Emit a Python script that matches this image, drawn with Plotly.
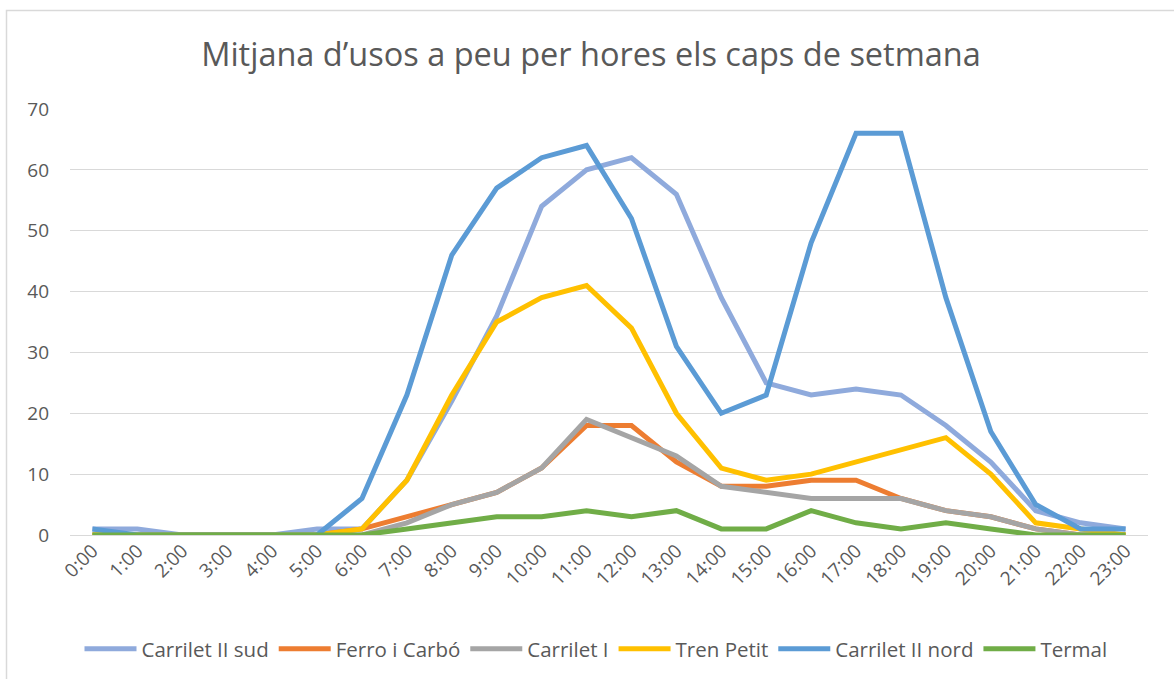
import plotly.graph_objects as go

hours = [f"{h}:00" for h in range(24)]

carrilet_ii_sud = [1, 1, 0, 0, 0, 1, 1, 9, 22, 36, 54, 60, 62, 56, 39, 25, 23, 24, 23, 18, 12, 4, 2, 1]
ferro_i_carbo = [0, 0, 0, 0, 0, 0, 1, 3, 5, 7, 11, 18, 18, 12, 8, 8, 9, 9, 6, 4, 3, 1, 0, 0]
carrilet_i = [0, 0, 0, 0, 0, 0, 0, 2, 5, 7, 11, 19, 16, 13, 8, 7, 6, 6, 6, 4, 3, 1, 0, 0]
tren_petit = [0, 0, 0, 0, 0, 0, 1, 9, 23, 35, 39, 41, 34, 20, 11, 9, 10, 12, 14, 16, 10, 2, 1, 0]
carrilet_ii_nord = [1, 0, 0, 0, 0, 0, 6, 23, 46, 57, 62, 64, 52, 31, 20, 23, 48, 66, 66, 39, 17, 5, 1, 1]
termal = [0, 0, 0, 0, 0, 0, 0, 1, 2, 3, 3, 4, 3, 4, 1, 1, 4, 2, 1, 2, 1, 0, 0, 0]

series = [
    ("Carrilet II sud", carrilet_ii_sud, "#8FAADC"),
    ("Ferro i Carbó", ferro_i_carbo, "#ED7D31"),
    ("Carrilet I", carrilet_i, "#A5A5A5"),
    ("Tren Petit", tren_petit, "#FFC000"),
    ("Carrilet II nord", carrilet_ii_nord, "#5B9BD5"),
    ("Termal", termal, "#70AD47"),
]

fig = go.Figure()
for name, vals, color in series:
    fig.add_trace(go.Scatter(
        x=hours, y=vals, mode="lines", name=name,
        line=dict(color=color, width=5),
    ))

W, H = 1174, 679
ml, mr, mt, mb = 70, 26, 109, 144
pw, ph = W - ml - mr, H - mt - mb

FONT = "Open Sans, Lato, sans-serif"
fig.update_layout(
    width=W, height=H,
    margin=dict(l=ml, r=mr, t=mt, b=mb, autoexpand=False),
    paper_bgcolor="white", plot_bgcolor="white",
    font=dict(family=FONT, color="#595959", size=19),
    title=dict(text="Mitjana d’usos a peu per hores els caps de setmana",
               x=591 / W, xref="container", xanchor="center",
               y=1 - 55 / H, yref="container", yanchor="middle",
               font=dict(family=FONT, size=32.5, color="#595959")),
    xaxis=dict(type="category", range=[-0.5, 23.5], tickangle=-45, showgrid=False,
               zeroline=False, showline=False, ticks="", automargin=False,
               tickfont=dict(family=FONT, size=19, color="#595959")),
    yaxis=dict(range=[0, 70], dtick=10, showgrid=True, gridcolor="#D9D9D9",
               gridwidth=1, zeroline=True, zerolinecolor="#D9D9D9", zerolinewidth=1,
               showline=False, ticks="", automargin=False, ticklabelstandoff=20,
               tickfont=dict(family=FONT, size=19, color="#595959")),
    legend=dict(orientation="h", x=(596 - ml) / pw, xanchor="center",
                y=(mt + ph - 649) / ph, yanchor="middle",
                font=dict(family=FONT, size=20.5, color="#595959"), itemwidth=52,
                traceorder="normal"),
    shapes=[dict(type="rect", xref="paper", yref="paper",
                 x0=(6.5 - ml) / pw, x1=(W + 5 - ml) / pw,
                 y0=-(mb + 5) / ph, y1=1 + (mt - 10.5) / ph,
                 line=dict(color="#D9D9D9", width=1.5), layer="below")],
)

fig.write_html("out.html", post_script="document.body.style.margin='0';",
               config={"displayModeBar": False})
